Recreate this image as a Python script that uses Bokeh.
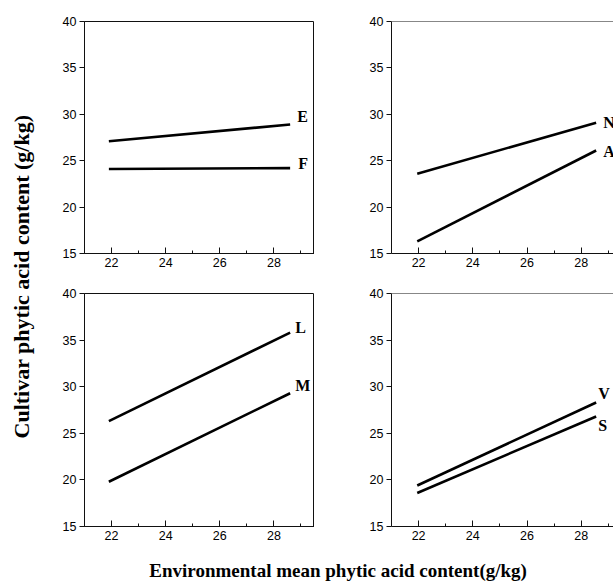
from bokeh.plotting import figure
from bokeh.layouts import row, column
from bokeh.models import FixedTicker, Span, Range1d
from bokeh.core.properties import value
from bokeh.embed import file_html
from bokeh.resources import INLINE

# ---------------- data ----------------
x_major = [22, 24, 26, 28]
x_minor = [23, 25, 27, 29]
y_major = [15, 20, 25, 30, 35, 40]

# panel 1 (top-left)
p1_x = [21.9, 28.6]
E_y = [27.1, 28.9]
F_y = [24.1, 24.2]
# panel 2 (top-right)
p2_x = [21.95, 28.55]
N_y = [23.6, 29.1]
A_y = [16.3, 26.1]
# panel 3 (bottom-left)
p3_x = [21.9, 28.6]
L_y = [26.3, 35.8]
M_y = [19.8, 29.3]
# panel 4 (bottom-right)
p4_x = [21.95, 28.55]
V_y = [19.4, 28.3]
S_y = [18.6, 26.8]

y_title = "Cultivar phytic acid content (g/kg)"
x_title = "Environmental  mean phytic acid content(g/kg)"

# ---------------- styling ----------------
TICK_FONT = "Liberation Sans"
SERIF = "Liberation Serif"
LEFT_FW, RIGHT_FW = 230, 222
TOP_FH, BOT_FH = 232, 233
# label offsets in screen px (dx, dy; dy negative = up)
label_off = {"E": (7, -8), "F": (8, -5), "N": (7, 0), "A": (7, 1),
             "L": (5, -5), "M": (5, -8), "V": (2, -9), "S": (2, 9)}


def panel(xs, series, top, is_right):
    x_end = 29.19 if is_right else 29.5
    p = figure(frame_width=RIGHT_FW if is_right else LEFT_FW,
               frame_height=TOP_FH if top else BOT_FH,
               x_range=Range1d(21, x_end), y_range=Range1d(15, 40),
               output_backend="svg", toolbar_location=None,
               min_border_left=77 if is_right else 48,
               min_border_right=0,
               min_border_top=21 if top else 18,
               min_border_bottom=22)
    p.grid.visible = False
    p.background_fill_color = "white"
    p.border_fill_color = "white"
    if is_right:
        p.outline_line_color = None
        p.add_layout(Span(location=40, dimension="width",
                          line_color="#111111", line_width=1))
    else:
        p.outline_line_color = "#111111"
        p.outline_line_width = 1

    xa = p.xaxis[0]
    xa.ticker = FixedTicker(ticks=x_major, minor_ticks=x_minor)
    xa.major_tick_in = 6
    xa.major_tick_out = 0
    xa.minor_tick_in = 3
    xa.minor_tick_out = 0
    xa.major_label_standoff = 4
    ya = p.yaxis[0]
    ya.ticker = FixedTicker(ticks=y_major, minor_ticks=[])
    ya.major_tick_in = 0
    ya.major_tick_out = 5
    ya.major_label_standoff = 3
    for ax in (xa, ya):
        ax.axis_line_color = "#111111"
        ax.major_tick_line_color = "#111111"
        ax.minor_tick_line_color = "#111111"
        ax.major_label_text_font = TICK_FONT
        ax.major_label_text_font_size = "12.5px"
        ax.major_label_text_color = "#000000"

    for name, ys in series:
        p.line(xs, ys, line_color="black", line_width=2.6)
        dx, dy = label_off[name]
        p.text(x=[xs[-1]], y=[ys[-1]], text=[name],
               x_offset=dx, y_offset=dy,
               text_font=value(SERIF), text_font_style="bold",
               text_font_size="16px", text_baseline="middle",
               text_align="left", text_color="black")
    return p


p1 = panel(p1_x, [("E", E_y), ("F", F_y)], True, False)
p2 = panel(p2_x, [("N", N_y), ("A", A_y)], True, True)
p3 = panel(p3_x, [("L", L_y), ("M", M_y)], False, False)
p4 = panel(p4_x, [("V", V_y), ("S", S_y)], False, True)

# y title panel
YT_W, YT_H = 36, 552
yt = figure(frame_width=YT_W, frame_height=YT_H, x_range=Range1d(0, YT_W),
            y_range=Range1d(0, YT_H), output_backend="svg",
            toolbar_location=None, min_border=0)
yt.axis.visible = False
yt.grid.visible = False
yt.outline_line_color = None
yt.text(x=[21], y=[YT_H / 2], text=[y_title], angle=1.5707963,
        text_font=value(SERIF), text_font_style="bold",
        text_font_size="22px", text_align="center", text_baseline="middle",
        text_color="black")

# x title panel
XT_W, XT_H = 577, 34
xt = figure(frame_width=XT_W, frame_height=XT_H, x_range=Range1d(0, XT_W),
            y_range=Range1d(0, XT_H), output_backend="svg",
            toolbar_location=None, min_border=0)
xt.axis.visible = False
xt.grid.visible = False
xt.outline_line_color = None
xt.text(x=[304], y=[XT_H - 22], text=[x_title],
        text_font=value(SERIF), text_font_style="bold",
        text_font_size="19px", text_align="center", text_baseline="middle",
        text_color="black")

layout = row(yt, column(row(p1, p2), row(p3, p4), xt))

open("out.html", "w").write(file_html(layout, INLINE))
